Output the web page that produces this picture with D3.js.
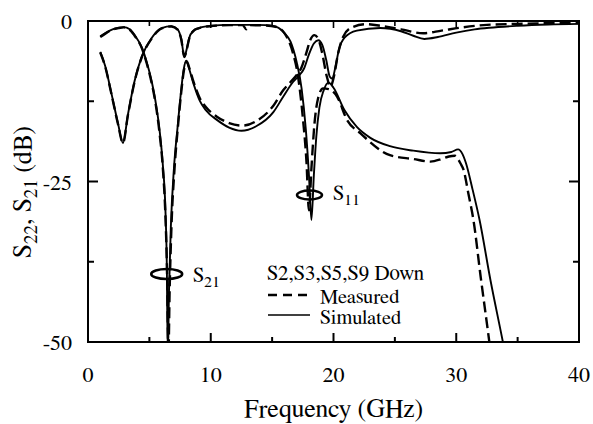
<!DOCTYPE html>
<html>
<head>
<meta charset="utf-8">
<script src="https://cdn.jsdelivr.net/npm/d3@7"></script>
<style>
  html, body { margin: 0; padding: 0; background: #fff; }
  svg { display: block; }
</style>
</head>
<body>
<svg id="chart" width="593" height="424"></svg>
<script>
// Transmission |S21| (dB) versus frequency (GHz)
const s21SimFreq = [1.0,1.5,2.0,2.5,2.9,3.4,3.8,4.4,4.8,5.2,5.5,5.8,6.1,6.3,6.42,6.5,6.6,6.75,7.0,7.3,7.55,7.8,8.0,8.2,8.6,9.1,9.6,10.5,11.5,12.5,13.7,15.1,15.9,16.7,17.2,17.6,18.0,18.4,18.76,19.1,19.4,19.7,19.9,20.15,20.45,20.9,21.9,23.8,25.5,26.5,27.4,28.5,30.0,31.5,32.7,35,37.5,40];
const s21SimDb   = [-2.4,-1.8,-1.3,-1.05,-0.95,-1.3,-2.2,-4.2,-6.5,-9.5,-12.5,-16.5,-22.5,-29,-38,-52,-42,-32,-23,-16.5,-11.5,-7.5,-6.2,-7.2,-9.8,-12.4,-13.9,-15.4,-16.6,-17.1,-16.4,-14.2,-11.8,-9.5,-8.5,-7.4,-5.2,-3.5,-3.0,-3.8,-6.0,-8.7,-9.0,-7.2,-4.4,-2.6,-1.5,-1.1,-1.6,-2.3,-2.8,-2.5,-1.8,-1.3,-1.05,-0.75,-0.55,-0.45];

const s21MeasFreq = [1.0,1.5,2.0,2.5,2.9,3.4,3.8,4.4,4.8,5.2,5.5,5.8,6.1,6.3,6.45,6.55,6.65,6.8,7.05,7.35,7.6,7.85,8.05,8.25,8.6,9.1,9.6,10.5,11.5,12.6,13.7,15.1,15.9,16.5,17.0,17.4,17.8,18.1,18.45,18.8,19.1,19.45,19.75,20.05,20.35,20.8,21.5,22.7,24.0,25.5,27.3,28.8,30.5,32.5,35,37.5,40];
const s21MeasDb   = [-2.5,-1.85,-1.35,-1.1,-1.0,-1.35,-2.3,-4.3,-6.7,-9.8,-12.8,-17,-23,-30,-40,-52,-42,-32,-23,-16,-11,-7.3,-6.3,-7.3,-9.5,-12.0,-13.4,-14.9,-15.9,-16.3,-15.6,-13.2,-10.8,-9.5,-8.4,-7.2,-4.9,-3.0,-2.2,-3.0,-5.2,-8.6,-10.2,-8.5,-5.3,-2.4,-1.0,-0.5,-0.8,-1.3,-1.9,-1.5,-1.0,-0.6,-0.45,-0.35,-0.3];

// Reflection |S11| (dB) versus frequency (GHz)
const s11SimFreq = [1.0,1.4,1.9,2.45,2.85,3.25,3.8,4.35,5.2,6.0,6.8,7.3,7.6,7.85,8.05,8.25,8.6,9.0,10,11.5,13,14.5,15.4,16.0,16.5,17.0,17.4,17.75,18.0,18.2,18.4,18.6,18.85,19.2,19.6,20.0,20.9,21.9,23.0,24.6,26.5,28.7,29.6,30.15,30.5,30.8,31.3,31.9,32.8,33.8,34.2];
const s11SimDb   = [-4.8,-7.0,-11.2,-16.0,-19.0,-14.6,-9.3,-5.7,-2.6,-1.1,-0.8,-1.3,-2.8,-5.6,-4.3,-2.6,-1.5,-1.1,-0.75,-0.6,-0.6,-0.65,-0.95,-1.9,-3.2,-6.4,-10.5,-17,-24,-31,-24,-18,-13.5,-10.8,-9.6,-10.4,-13.9,-16.5,-18.2,-19.5,-20.2,-20.6,-20.4,-20.0,-20.7,-22.2,-26,-31,-40.5,-50,-54];

const s11MeasFreq = [1.0,1.4,1.9,2.45,2.85,3.25,3.8,4.35,5.2,6.0,6.8,7.3,7.6,7.85,8.05,8.25,8.6,9.0,10,11.5,12.6,12.9,13.2,14.5,15.3,16.0,16.7,17.1,17.5,17.8,18.0,18.2,18.45,18.75,19.15,19.6,20.3,21.1,22.2,24.6,26.5,27.9,28.8,29.4,29.9,30.35,30.6,31.0,31.4,32.0,32.6,32.9];
const s11MeasDb   = [-4.9,-7.1,-11.3,-16.1,-19.0,-14.7,-9.4,-5.8,-2.7,-1.15,-0.85,-1.35,-2.9,-5.6,-4.4,-2.7,-1.55,-1.15,-0.8,-0.65,-0.65,-1.3,-0.65,-0.7,-0.9,-1.9,-5.0,-8.5,-15,-22,-29.5,-23,-16,-12,-10.5,-10.6,-11.8,-15.4,-17.5,-20.9,-21.5,-21.9,-21.5,-21.1,-21.0,-22.2,-23.2,-27,-31,-40,-48.6,-53];

// Axis ticks
const xMajorTicks = [0, 10, 20, 30, 40];
const xMinorTicks = [5, 15, 25, 35];
const yMajorTicks = [0, -25, -50];
const yMinorTicks = [-12.5, -37.5];

const W = 593, H = 424;
const margin = { left: 88, top: 21, right: 593 - 579, bottom: 424 - 342 };
const iw = W - margin.left - margin.right;
const ih = H - margin.top - margin.bottom;
const serif = "FreeSerif, 'Liberation Serif', serif";

const svg = d3.select("#chart");
const x = d3.scaleLinear().domain([0, 40]).range([margin.left, margin.left + iw]);
const y = d3.scaleLinear().domain([-50, 0]).range([margin.top + ih, margin.top]);

svg.append("defs").append("clipPath").attr("id", "plotClip")
  .append("rect")
  .attr("x", margin.left).attr("y", margin.top)
  .attr("width", iw).attr("height", ih);

const zip = (fs, ds) => fs.map((f, i) => ({ f, d: ds[i] }));
const line = d3.line().x(p => x(p.f)).y(p => y(p.d)).curve(d3.curveMonotoneX);

const curves = svg.append("g").attr("clip-path", "url(#plotClip)");
const series = [
  { data: zip(s21SimFreq, s21SimDb), dash: null, w: 1.9 },
  { data: zip(s11SimFreq, s11SimDb), dash: null, w: 1.9 },
  { data: zip(s21MeasFreq, s21MeasDb), dash: "11,5", w: 2.4 },
  { data: zip(s11MeasFreq, s11MeasDb), dash: "11,5", w: 2.4 }
];
series.forEach(s => {
  curves.append("path")
    .attr("d", line(s.data))
    .attr("fill", "none")
    .attr("stroke", "#000")
    .attr("stroke-width", s.w)
    .attr("stroke-dasharray", s.dash)
    .attr("stroke-linejoin", "round");
});

// Frame and inward ticks on all four sides
const axes = svg.append("g").attr("stroke", "#000");
axes.append("rect")
  .attr("x", margin.left).attr("y", margin.top)
  .attr("width", iw).attr("height", ih)
  .attr("fill", "none").attr("stroke-width", 2);

const bottom = margin.top + ih, right = margin.left + iw;
function xTick(v, len, lenTop) {
  axes.append("line").attr("x1", x(v)).attr("x2", x(v)).attr("y1", bottom).attr("y2", bottom - len).attr("stroke-width", 2);
  axes.append("line").attr("x1", x(v)).attr("x2", x(v)).attr("y1", margin.top).attr("y2", margin.top + lenTop).attr("stroke-width", 1.6);
}
function yTick(v, len) {
  axes.append("line").attr("y1", y(v)).attr("y2", y(v)).attr("x1", margin.left).attr("x2", margin.left + len).attr("stroke-width", 2);
  axes.append("line").attr("y1", y(v)).attr("y2", y(v)).attr("x1", right).attr("x2", right - len).attr("stroke-width", 2);
}
xMajorTicks.forEach(v => xTick(v, 9, 7));
xMinorTicks.forEach(v => xTick(v, 5, 5));
yMajorTicks.forEach(v => yTick(v, 10));
yMinorTicks.forEach(v => yTick(v, 6));

const txt = (sel) => sel.style("font-family", serif).attr("fill", "#000");

// Tick labels
svg.append("g").selectAll("text").data(xMajorTicks).join("text")
  .call(txt)
  .attr("x", d => x(d)).attr("y", 382)
  .attr("text-anchor", "middle").attr("font-size", 22)
  .text(d => d);
svg.append("g").selectAll("text").data(yMajorTicks).join("text")
  .call(txt)
  .attr("x", 72).attr("y", d => y(d) + 8)
  .attr("text-anchor", "end").attr("font-size", 22)
  .text(d => d === 0 ? "0" : "-" + Math.abs(d));

// Axis titles
svg.append("text").call(txt)
  .attr("x", x(20)).attr("y", 417)
  .attr("text-anchor", "middle").attr("font-size", 26)
  .text("Frequency (GHz)");

const yTitle = svg.append("text").call(txt)
  .attr("transform", "translate(31,192) rotate(-90)")
  .attr("text-anchor", "middle").attr("font-size", 26);
yTitle.append("tspan").text("S");
yTitle.append("tspan").attr("dy", 6).attr("font-size", 19).text("22");
yTitle.append("tspan").attr("dy", -6).text(", S");
yTitle.append("tspan").attr("dy", 6).attr("font-size", 19).text("21");
yTitle.append("tspan").attr("dy", -6).text(" (dB)");

// Curve labels with ellipse markers
function markLabel(cx, cy, rx, ry, tx, ty, sub) {
  svg.append("ellipse").attr("cx", cx).attr("cy", cy).attr("rx", rx).attr("ry", ry)
    .attr("fill", "none").attr("stroke", "#000").attr("stroke-width", 2.5);
  const t = svg.append("text").call(txt).attr("x", tx).attr("y", ty).attr("font-size", 21);
  t.append("tspan").text("S");
  t.append("tspan").attr("dy", 5).attr("font-size", 16).text(sub);
}
markLabel(166.7, 274, 15.5, 5, 193, 282, "21");
markLabel(309.5, 195, 12.5, 4.5, 333, 200, "11");

// Legend
const lg = svg.append("g");
lg.append("text").call(txt).attr("x", 267).attr("y", 280).attr("font-size", 21).text("S2,S3,S5,S9 Down");
lg.append("line").attr("x1", 268).attr("x2", 310).attr("y1", 295).attr("y2", 295)
  .attr("stroke", "#000").attr("stroke-width", 2.4).attr("stroke-dasharray", "9,6");
lg.append("text").call(txt).attr("x", 320).attr("y", 303).attr("font-size", 20.5).text("Measured");
lg.append("line").attr("x1", 268).attr("x2", 310).attr("y1", 315).attr("y2", 315)
  .attr("stroke", "#000").attr("stroke-width", 1.7);
lg.append("text").call(txt).attr("x", 320).attr("y", 324).attr("font-size", 20.5).text("Simulated");
</script>
</body>
</html>
